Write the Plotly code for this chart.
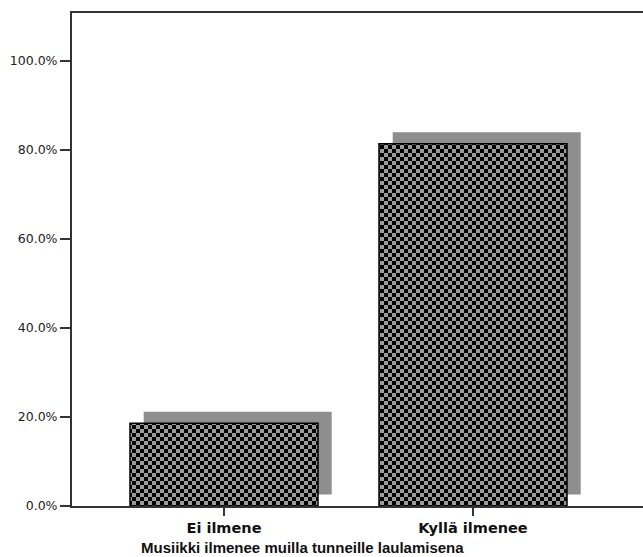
import plotly.graph_objects as go

# ---- data ----
categories = ["Ei ilmene", "Kyllä ilmenee"]
percent_values = [18.6, 81.4]
y_tick_values = [0, 20, 40, 60, 80, 100]
y_tick_labels = [f"{v:.1f}%" for v in y_tick_values]
x_title = "Musiikki ilmenee muilla tunneille laulamisena"

# ---- style ----
BAR_WIDTH = 0.755
SHADOW_DX = 0.055     # shadow shift to the right (x units)
SHADOW_DY = 2.6       # shadow shift upward (percent units)
x_pos = list(range(len(categories)))

fig = go.Figure()

# drop shadow behind the bars
fig.add_trace(go.Bar(
    x=x_pos, y=percent_values, base=[SHADOW_DY] * len(categories),
    width=BAR_WIDTH, offset=-BAR_WIDTH / 2 + SHADOW_DX,
    marker=dict(color="#8e8e8e", line=dict(width=0)),
    hoverinfo="skip", showlegend=False,
))

# checkered bars
fig.add_trace(go.Bar(
    x=x_pos, y=percent_values,
    width=BAR_WIDTH, offset=-BAR_WIDTH / 2,
    marker=dict(
        color="#000000",
        pattern=dict(shape=".", fgcolor="#000000", bgcolor="#9a9a9a",
                     size=8, solidity=0.5, fillmode="replace"),
        line=dict(color="#000000", width=1.5),
    ),
    showlegend=False,
))

fig.update_layout(
    width=643, height=557,
    margin=dict(l=72, r=0, t=13, b=51),
    paper_bgcolor="white", plot_bgcolor="white",
    barmode="overlay",
    font=dict(family="DejaVu Sans", color="#111111"),
    xaxis=dict(
        range=[-0.6104, 1.6827],
        tickvals=x_pos, ticktext=categories,
        tickfont=dict(family="DejaVu Sans", size=14.5, weight="bold", color="#111111"),
        ticks="outside", ticklen=8, tickwidth=1.5, tickcolor="#333333",
        showline=True, linecolor="#333333", linewidth=2, mirror=True,
        showgrid=False, zeroline=False, fixedrange=True,
    ),
    yaxis=dict(
        range=[0, 110.8],
        tickvals=y_tick_values, ticktext=y_tick_labels,
        tickfont=dict(family="DejaVu Sans", size=12.5, color="#222222"),
        ticks="outside", ticklen=10, tickwidth=1.5, tickcolor="#333333",
        showline=True, linecolor="#333333", linewidth=2, mirror=False,
        showgrid=False, zeroline=False, fixedrange=True,
    ),
    annotations=[dict(
        text=x_title, xref="paper", yref="paper",
        x=(302 - 72) / 571, y=-(547 - 506) / 493,
        xanchor="center", yanchor="middle", showarrow=False,
        font=dict(family="Liberation Sans", size=15, weight="bold", color="#111111"),
    )],
)

# remove page margin and give the bars a true checkerboard texture
checker_js = """
document.body.style.margin = '0';
var gd = document.getElementById('{plot_id}');
var ns = 'http://www.w3.org/2000/svg';
gd.querySelectorAll('pattern').forEach(function(p){
  var s = 8, h = 4;
  p.setAttribute('width', s); p.setAttribute('height', s);
  while (p.firstChild) { p.removeChild(p.firstChild); }
  function r(x, y, w, hh, c){
    var e = document.createElementNS(ns, 'rect');
    e.setAttribute('x', x); e.setAttribute('y', y);
    e.setAttribute('width', w); e.setAttribute('height', hh);
    e.setAttribute('fill', c); p.appendChild(e);
  }
  r(0, 0, s, s, '#9a9a9a'); r(0, 0, h, h, '#000000'); r(h, h, h, h, '#000000');
});
"""

fig.write_html("out.html", post_script=checker_js, config={"displayModeBar": False})
